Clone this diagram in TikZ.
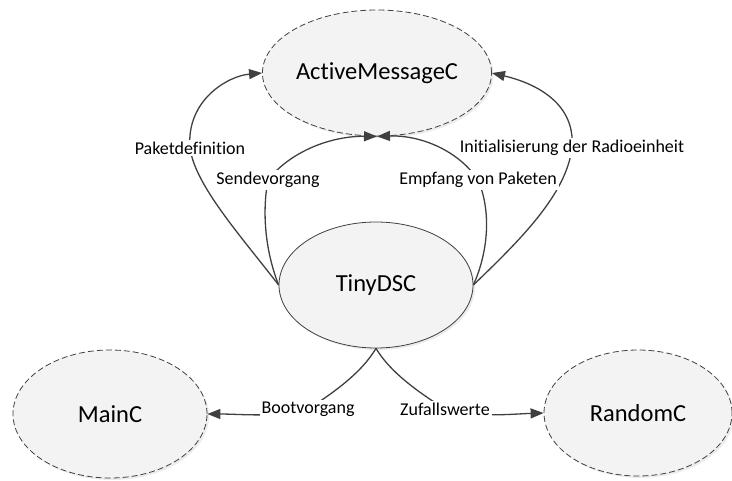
\documentclass[tikz,border=0pt]{standalone}
\usepackage{fontspec}
\setmainfont{Carlito}[RawFeature={-liga;-clig;-dlig;-calt}]
\usetikzlibrary{arrows.meta,shapes.geometric,shadows}

\definecolor{edgegray}{HTML}{404040}
\definecolor{nodefill}{HTML}{F3F3F3}

\tikzset{
  comp/.style={ellipse, draw=black!75, fill=nodefill, inner sep=0pt,
    line width=0.8pt, font=\fontsize{24.5}{28}\selectfont,
    drop shadow={shadow xshift=2pt, shadow yshift=-2pt, fill=black!15, opacity=0.5}},
  extcomp/.style={comp, dashed, dash pattern=on 6pt off 3pt},
  conn/.style={draw=edgegray, line width=1.3pt,
    -{Triangle[length=13pt,width=10pt]}},
  lbl/.style={fill=white, inner sep=2pt, font=\fontsize{18}{21}\selectfont}
}

\begin{document}
\begin{tikzpicture}[x=1pt,y=-1pt]
  \useasboundingbox (0,0) rectangle (732,481);

  % components
  \node[extcomp, minimum width=210pt, minimum height=126pt] (A) at (377,73) {ActiveMessageC};
  \node[comp, minimum width=194pt, minimum height=126pt] (T) at (376,285) {TinyDSC};
  \node[extcomp, minimum width=194pt, minimum height=128pt] (M) at (110,414) {MainC};
  \node[extcomp, minimum width=188pt, minimum height=126pt] (R) at (638,413) {RandomC};

  % label anchors on the connectors
  \coordinate (p1) at (190,148);
  \coordinate (p2) at (268,180);
  \coordinate (p3) at (478,180);
  \coordinate (p4) at (572,148);
  \coordinate (p5) at (308,409);
  \coordinate (p6) at (445,409);

  % connectors TinyDSC -> ActiveMessageC
  \draw[conn] (T.west) .. controls (240,235) and (195,185) .. (p1)
              .. controls (186,100) and (228,76) .. (A.west);
  \draw[conn] (T.west) .. controls (265,250) and (262,212) .. (p2)
              .. controls (290,152) and (330,136) .. (A.south);
  \draw[conn] (T.east) .. controls (489,250) and (491,210) .. (p3)
              .. controls (458,150) and (420,135) .. (A.south);
  \draw[conn] (T.east) .. controls (520,240) and (566,195) .. (p4)
              .. controls (576,100) and (530,82) .. (A.east);

  % connectors TinyDSC -> MainC / RandomC
  \draw[conn] (T.south) .. controls (362,372) and (335,392) .. (p5)
              .. controls (280,418) and (240,414) .. (M.east);
  \draw[conn] (T.south) .. controls (390,372) and (418,392) .. (p6)
              .. controls (475,418) and (512,414) .. (R.west);

  % connector labels
  \node[lbl] (l1) at (p1) {Paketdefinition};
  \node[lbl] (l2) at (p2) {Sendevorgang};
  \node[lbl] (l3) at (p3) {Empfang von Paketen};
  \node[lbl] (l4) at (p4) {Initialisierung der Radioeinheit};
  \node[lbl] (l5) at (p5) {Bootvorgang};
  \node[lbl] (l6) at (p6) {Zufallswerte};
\end{tikzpicture}
\end{document}
